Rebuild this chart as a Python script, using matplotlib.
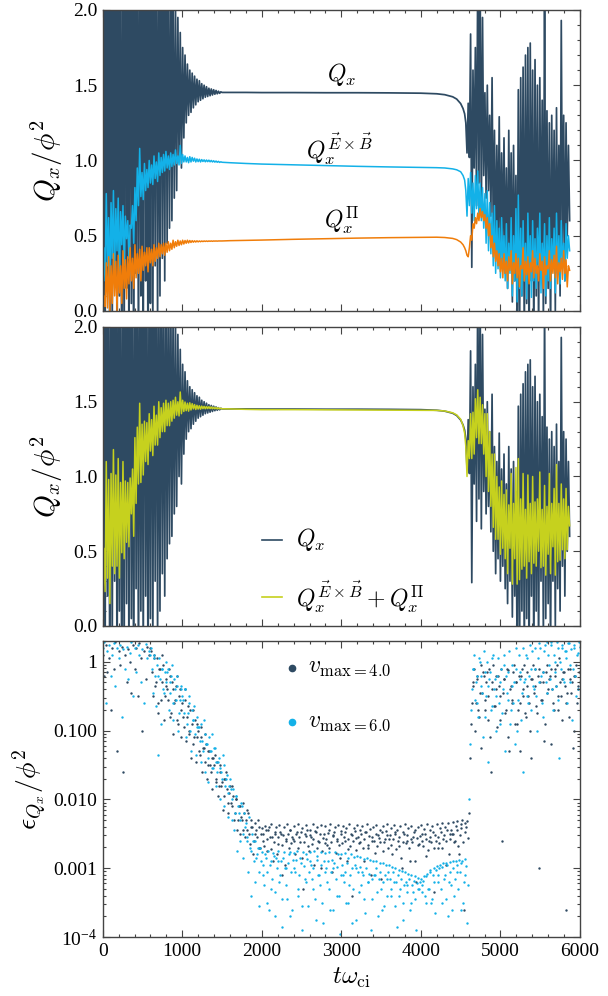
import numpy as np
import matplotlib
matplotlib.use("Agg")
import matplotlib.pyplot as plt
from matplotlib.ticker import MultipleLocator, FixedLocator, LogLocator, NullFormatter, FormatStrFormatter

plt.rcParams["font.family"] = "Liberation Serif"
plt.rcParams["mathtext.fontset"] = "cm"

DARK = "#2e4a62"
CYAN = "#13b1e8"
ORANGE = "#f07d0a"
LIME = "#c6d11e"
FRAME = "#444444"

# ------------------------------------------------------------
# heat flux time traces
# early turbulent part: t = 0 .. 1500, every 15
# ------------------------------------------------------------
STEP_LINE = 15
QX_EARLY = [
    0.0, 2.9, -0.5, 3.4, 0.2, 2.5, -0.8, 3.1, -0.2, 2.7,
    0.3, 3.6, -0.6, 2.4, 0.1, 3.0, -0.9, 2.6, -0.3, 3.3,
    0.15, 2.8, -0.4, 3.5, 0.05, 2.3, -0.7, 3.2, 0.25, 2.6,
    -0.5, 3.0, 0.1, 2.7, -0.35, 3.4, 0.2, 2.5, -0.6, 2.9,
    0.05, 3.1, -0.2, 2.6, 0.3, 2.8, -0.1, 2.4, 0.1, 2.7,
    0.35, 2.3, 0.2, 2.5, 0.45, 2.2, 0.55, 2.4, 0.6, 2.1,
    0.75, 2.05, 0.8, 1.95, 1.0, 1.85, 0.95, 1.75, 1.15, 1.7,
    1.25, 1.64, 1.3, 1.6, 1.32, 1.58, 1.35, 1.56, 1.37, 1.54,
    1.39, 1.53, 1.4, 1.51, 1.41, 1.5, 1.42, 1.49, 1.425, 1.48,
    1.43, 1.475, 1.435, 1.47, 1.44, 1.465, 1.443, 1.46, 1.446, 1.456,
    1.452,
]
EXB_EARLY = [
    0.05, 0.42, 0.2, 0.78, 0.3, 0.62, 0.15, 0.72, 0.35, 0.8,
    0.25, 0.68, 0.4, 0.75, 0.2, 0.66, 0.44, 0.7, 0.3, 0.63,
    0.48, 0.6, 0.35, 0.57, 0.55, 0.7, 0.45, 0.82, 0.6, 0.95,
    0.7, 1.08, 0.76, 0.92, 0.74, 0.98, 0.8, 0.94, 0.82, 1.0,
    0.85, 0.97, 0.84, 1.03, 0.88, 0.99, 0.86, 1.05, 0.9, 1.02,
    0.92, 1.04, 0.93, 1.06, 0.95, 1.03, 0.94, 1.05, 0.96, 1.04,
    0.97, 1.07, 0.98, 1.03, 0.97, 1.1, 0.98, 1.04, 0.99, 1.03,
    0.99, 1.02, 0.985, 1.025, 0.99, 1.02, 0.995, 1.015, 0.99, 1.01,
    0.992, 1.008, 0.99, 1.006, 0.993, 1.004, 0.991, 1.003, 0.992, 1.002,
    0.991, 1.0, 0.99, 0.998, 0.989, 0.996, 0.988, 0.994, 0.987, 0.991,
    0.988,
]
PI_EARLY = [
    0.0, 0.1, 0.03, 0.32, 0.02, 0.36, 0.0, 0.3, 0.05, 0.38,
    0.1, 0.33, 0.0, 0.37, 0.12, 0.3, 0.05, 0.4, 0.15, 0.34,
    0.08, 0.36, 0.18, 0.42, 0.2, 0.35, 0.15, 0.44, 0.22, 0.38,
    0.25, 0.41, 0.2, 0.43, 0.27, 0.39, 0.3, 0.42, 0.26, 0.42,
    0.32, 0.41, 0.3, 0.44, 0.33, 0.42, 0.35, 0.45, 0.36, 0.44,
    0.38, 0.45, 0.37, 0.45, 0.39, 0.46, 0.4, 0.45, 0.41, 0.47,
    0.42, 0.46, 0.43, 0.47, 0.435, 0.465, 0.44, 0.47, 0.445, 0.468,
    0.45, 0.47, 0.452, 0.468, 0.455, 0.467, 0.457, 0.466, 0.458, 0.466,
    0.459, 0.465, 0.46, 0.465, 0.461, 0.465, 0.462, 0.465, 0.462, 0.465,
    0.463, 0.465, 0.463, 0.465, 0.464, 0.465, 0.464, 0.465, 0.465, 0.465,
    0.465,
]

# quiet plateau
T_MID = [1600, 1800, 2000, 2400, 2800, 3200, 3600, 4000, 4200, 4300, 4400, 4450, 4500, 4530, 4550]
QX_MID = [1.452, 1.452, 1.451, 1.451, 1.45, 1.45, 1.449, 1.447, 1.443, 1.437, 1.423, 1.408, 1.378, 1.345, 1.31]
EXB_MID = [0.985, 0.98, 0.976, 0.971, 0.966, 0.961, 0.957, 0.954, 0.952, 0.95, 0.944, 0.938, 0.925, 0.9, 0.87]
PI_MID = [0.467, 0.469, 0.471, 0.476, 0.48, 0.484, 0.487, 0.489, 0.49, 0.488, 0.482, 0.474, 0.458, 0.44, 0.42]

# late turbulent part: t = 4565 .. 5870, every 15
LATE_START, LATE_END = 4565, 5870
QX_LATE = [
    1.25, 1.05, 1.38, 1.02, 1.84, 0.29, 1.6, 0.95, 1.75, 0.7,
    2.3, 0.85, 2.2, 0.65, 1.95, 0.9, 1.45, 0.75, 1.5, 0.8,
    1.3, 0.63, 1.55, 0.5, 1.2, 0.35, 1.1, 0.45, 1.29, 0.3,
    1.05, 0.4, 1.15, 0.25, 0.95, 0.15, 1.2, 0.3, 1.05, 0.06,
    1.1, 0.2, 0.9, -0.2, 1.47, -0.3, 1.55, 0.1, 1.62, -0.25,
    1.7, 0.05, 1.75, -0.4, 1.78, 0.2, 1.6, -0.3, 1.67, 0.1,
    1.5, -0.2, 1.55, 0.3, 1.4, -0.1, 2.2, 0.05, 1.33, 0.15,
    1.25, -0.2, 1.3, 0.3, 1.2, 0.0, 1.35, 0.25, 1.1, 0.1,
    1.93, 0.4, 1.3, 0.2, 1.25, 0.5, 1.1, 0.6,
]
EXB_LATE = [
    0.8, 0.63, 0.88, 0.7, 0.92, 0.65, 0.85, 0.6, 0.9, 0.68,
    0.93, 0.62, 0.85, 0.6, 0.82, 0.55, 0.78, 0.45, 0.8, 0.4,
    0.72, 0.38, 0.65, 0.3, 0.7, 0.25, 0.6, 0.28, 0.55, 0.22,
    0.62, 0.3, 0.5, 0.2, 0.58, 0.15, 0.45, 0.25, 0.62, 0.1,
    0.5, 0.2, 0.68, 0.06, 0.77, 0.15, 0.55, 0.1, 0.6, 0.2,
    0.45, 0.08, 0.65, 0.25, 0.5, 0.09, 0.6, 0.2, 0.48, 0.15,
    0.55, 0.3, 0.65, 0.12, 0.45, 0.25, 0.58, 0.1, 0.5, 0.2,
    0.62, 0.15, 0.48, 0.28, 0.55, 0.12, 0.65, 0.25, 0.5, 0.18,
    0.6, 0.3, 0.45, 0.2, 0.58, 0.35, 0.5, 0.4,
]
PI_LATE = [
    0.4, 0.37, 0.36, 0.42, 0.5, 0.47, 0.58, 0.55, 0.62, 0.58,
    0.65, 0.6, 0.68, 0.62, 0.66, 0.6, 0.64, 0.55, 0.62, 0.5,
    0.58, 0.42, 0.5, 0.36, 0.45, 0.33, 0.4, 0.3, 0.38, 0.26,
    0.35, 0.22, 0.38, 0.25, 0.33, 0.2, 0.36, 0.27, 0.4, 0.18,
    0.32, 0.25, 0.38, 0.22, 0.35, 0.16, 0.3, 0.28, 0.42, 0.2,
    0.33, 0.24, 0.36, 0.18, 0.32, 0.26, 0.4, 0.22, 0.35, 0.25,
    0.3, 0.2, 0.38, 0.27, 0.33, 0.15, 0.36, 0.24, 0.3, 0.28,
    0.4, 0.2, 0.34, 0.25, 0.37, 0.22, 0.43, 0.18, 0.32, 0.26,
    0.35, 0.21, 0.4, 0.25, 0.34, 0.16, 0.3, 0.27,
]

# ------------------------------------------------------------
# error estimate, log10 values
# set A: t = 0 .. 6000 every 20
# set B: t = 610 .. 4590 every 20
# set C: t = 4630 .. 5990 every 20
# ------------------------------------------------------------
STEP_ERR = 20
LOG_ERR_V4 = [
    0.1, -0.2, 0.25, -0.15, 0.05, -0.7, 0.2, -0.1, 0.28, -1.3,
    0.15, -0.05, 0.22, -1.6, 0.1, -0.3, 0.18, 0.0, -0.45, 0.25,
    -0.1, 0.2, -0.5, 0.27, 0.05, -1.0, 0.15, -0.25, 0.22, 0.1,
    0.2, -0.15, 0.1, -0.35, 0.05, -0.6, -0.1, -0.3, -0.05, -0.5,
    -0.25, -0.55, -0.2, -0.75, -0.4, -0.6, -0.35, -0.85, -0.5, -0.7,
    -0.6, -0.95, -0.55, -0.8, -1.05, -0.7, -0.9, -1.2, -0.85, -1.1,
    -1.0, -1.35, -1.1, -1.25, -1.45, -1.2, -1.5, -1.3, -1.6, -1.4,
    -1.5, -1.7, -1.45, -1.8, -1.6, -1.75, -1.95, -1.7, -1.85, -2.05,
    -1.8, -2.1, -1.95, -2.2, -2.0, -2.3, -2.1, -2.25, -2.45, -2.2,
    -2.3, -2.15, -2.5, -2.3, -2.4, -2.6, -2.35, -2.55, -2.4, -2.7,
    -2.42, -2.6, -2.38, -2.75, -2.45, -2.55, -2.36, -2.9, -2.5, -2.4,
    -2.65, -2.37, -2.5, -3.1, -2.4, -2.58, -2.36, -2.7, -2.45, -2.55,
    -2.38, -2.8, -2.47, -2.36, -2.62, -2.42, -3.3, -2.5, -2.37, -2.68,
    -2.44, -2.55, -2.36, -2.95, -2.48, -2.4, -2.62, -2.37, -2.75, -2.5,
    -2.39, -2.66, -2.45, -2.36, -3.05, -2.52, -2.4, -2.58, -2.37, -2.85,
    -2.46, -2.38, -2.6, -2.42, -2.72, -2.36, -2.5, -3.4, -2.41, -2.56,
    -2.37, -2.64, -2.45, -2.38, -2.9, -2.48, -2.36, -2.7, -2.43, -2.55,
    -2.4, -2.78, -2.37, -2.52, -2.44, -3.15, -2.38, -2.62, -2.46, -2.36,
    -2.58, -2.42, -2.8, -2.37, -2.5, -2.45, -2.68, -2.38, -3.0, -2.47,
    -2.36, -2.6, -2.42, -2.9, -2.38, -2.55, -2.44, -3.2, -2.4, -2.65,
    -2.37, -2.5, -2.43, -2.82, -2.36, -2.6, -2.45, -2.39, -3.35, -2.52,
    -2.36, -2.7, -2.42, -2.35, -2.58, -2.4, -2.95, -2.34, -2.5, -2.44,
    -2.33, -2.62, -2.38, -2.32, -2.8, -2.36, -2.3, -3.6, -2.35, -2.31,
    -2.2, -1.4, -0.6, -0.3, -1.0, -0.2, -0.7, -0.45, -1.25, -0.15,
    -0.55, -0.3, -0.85, -0.1, -1.6, -0.4, -0.65, -0.2, -0.95, -0.35,
    -0.5, -2.6, -0.25, -0.75, -0.1, -1.1, -0.4, -0.6, -0.15, -0.9,
    -0.3, -0.7, -1.3, -0.2, -0.5, -0.05, -0.8, -0.35, -0.6, -1.4,
    -0.25, -0.45, -0.1, -0.75, -3.0, -0.3, -0.55, -0.15, -0.9, -0.05,
    -0.4, -0.2, -1.2, -0.6, -0.1, -0.35, -0.7, 0.05, -0.5, -0.25,
    -0.15, -3.6, -0.45, -0.8, -0.1, -0.3, -1.0, -0.2, -0.6, -0.35,
    -0.3,
]
LOG_ERR_V6 = [
    0.2, 0.28, -0.6, 0.15, 0.25, -0.2, 0.1, 0.27, -0.35, 0.2,
    0.05, 0.25, -0.8, 0.18, -0.1, 0.22, -0.25, 0.12, 0.28, -0.5,
    0.2, -0.15, 0.25, 0.1, -0.3, 0.18, -0.6, 0.26, 0.05, 0.15,
    0.1, -0.1, 0.05, -0.2, -0.05, -1.35, -0.25, -0.1, -0.4, -0.15,
    -0.3, -0.1, -0.45, -0.2, -0.6, -0.25, -0.55, -0.35, -0.75, -0.4,
    -0.5, -0.75, -0.4, -0.9, -0.6, -1.0, -0.7, -0.85, -1.05, -0.8,
    -0.95, -1.15, -0.9, -1.3, -1.05, -1.2, -1.4, -1.1, -1.3, -1.55,
    -1.25, -1.45, -1.6, -1.4, -1.55, -1.7, -1.5, -1.8, -1.65, -1.9,
    -1.7, -2.0, -1.85, -2.2, -1.95, -2.1, -2.3, -2.05, -2.5, -2.2,
    -2.35, -2.6, -2.25, -2.75, -2.5, -2.9, -2.6, -2.8, -3.05, -2.7,
    -2.76, -3.1, -2.8, -3.5, -2.75, -2.95, -3.3, -2.78, -3.7, -2.85,
    -2.75, -3.2, -2.9, -3.85, -2.77, -3.0, -3.45, -2.8, -2.76, -3.6,
    -2.78, -3.05, -2.75, -3.4, -2.85, -3.9, -2.76, -3.15, -2.8, -3.55,
    -2.77, -2.95, -3.3, -2.75, -3.75, -2.82, -3.1, -2.76, -3.5, -2.9,
    -2.78, -3.2, -2.76, -3.6, -2.88, -3.0, -2.77, -3.4, -2.8, -3.95,
    -2.79, -3.1, -2.78, -3.5, -2.85, -3.25, -2.8, -3.8, -2.83, -3.0,
    -2.82, -3.35, -2.84, -3.05, -2.86, -3.65, -2.85, -3.2, -2.88, -3.45,
    -2.89, -3.1, -2.9, -3.7, -2.92, -3.3, -2.93, -3.55, -2.95, -3.15,
    -2.96, -3.4, -2.98, -3.2, -3.0, -3.85, -3.02, -3.3, -3.04, -3.5,
    -3.06, -3.25, -3.08, -3.6, -3.1, -3.35, -3.12, -3.9, -3.14, -3.3,
    -3.15, -3.35, -3.12, -3.5, -3.08, -3.3, -3.03, -3.45, -3.0, -3.65,
    -2.97, -3.2, -2.95, -3.5, -2.93, -3.1, -2.92, -3.7, -2.91, -3.25,
    -2.9, -3.4, -2.9, -3.05, -2.88, -3.6, -2.9, -3.2, -2.87, -3.8,
    -2.0, -1.2, -0.4, -0.1, -0.55, -0.2, -0.8, 0.0, -0.35, -1.1,
    -0.15, -0.5, -1.45, -0.25, -0.7, 0.05, -0.4, -1.0, -0.2, -0.6,
    -0.3, -0.75, -0.05, -1.3, -0.45, -0.15, -0.9, -0.35, -0.6, -1.2,
    -0.1, -0.55, -0.25, -0.85, -1.6, -0.3, 0.1, -0.5, -0.2, -0.7,
    0.15, -0.4, -0.1, -1.0, -0.3, 0.2, -0.6, -0.15, 0.25, -0.45,
    0.1, -0.25, 0.28, -0.7, 0.0, -0.35, 0.2, -1.4, -0.1, 0.25,
    -0.3, 0.15, -0.6, 0.27, -0.05, -0.85, 0.2, -0.2, 0.1, -0.4,
    0.22,
]
ERR_B_START, ERR_B_END = 610, 4590
LOG_ERR_V4_B = [
    0.15, -0.5, 0.05, -0.3, -0.75, -0.1, -0.55, 0.1, -0.85, -0.35,
    -0.4, -0.1, -0.8, -0.3, -1.05, -0.55, -0.2, -0.9, -0.4, -1.1,
    -0.8, -0.4, -1.15, -0.65, -1.0, -1.4, -0.7, -1.1, -1.45, -0.9,
    -1.3, -0.95, -1.6, -1.25, -1.05, -1.7, -1.3, -1.5, -1.85, -1.4,
    -1.35, -1.75, -1.95, -1.5, -1.8, -2.15, -1.7, -1.6, -2.2, -1.9,
    -2.05, -1.8, -2.3, -2.0, -2.45, -2.1, -2.5, -2.3, -2.05, -2.55,
    -2.45, -2.2, -2.65, -2.4, -2.8, -2.5, -2.45, -2.3, -2.7, -2.5,
    -2.5, -2.68, -2.45, -2.58, -2.4, -2.72, -2.55, -2.62, -2.48, -2.8,
    -2.55, -2.47, -2.66, -2.52, -2.95, -2.6, -2.5, -2.44, -2.64, -2.58,
    -2.6, -2.5, -2.7, -2.55, -2.48, -2.85, -2.62, -2.53, -2.45, -2.75,
    -2.52, -2.65, -2.58, -2.46, -2.7, -2.6, -2.5, -3.0, -2.56, -2.63,
    -2.57, -2.49, -2.7, -2.62, -2.53, -2.47, -2.78, -2.6, -2.66, -2.5,
    -2.64, -2.55, -2.48, -2.9, -2.58, -2.68, -2.52, -2.6, -2.46, -2.74,
    -2.55, -2.62, -2.5, -2.7, -2.58, -2.47, -2.66, -2.53, -3.1, -2.6,
    -2.6, -2.5, -2.68, -2.56, -2.62, -2.48, -2.75, -2.58, -2.52, -2.7,
    -2.52, -2.66, -2.58, -2.47, -2.72, -2.6, -2.54, -2.85, -2.62, -2.5,
    -2.64, -2.52, -2.7, -2.57, -2.62, -2.48, -2.9, -2.56, -2.66, -2.53,
    -2.6, -2.68, -2.5, -2.58, -2.74, -2.55, -2.62, -2.47, -2.7, -2.6,
    -2.55, -2.64, -2.48, -2.7, -2.52, -2.6, -2.45, -2.8, -2.58, -2.5,
    -2.5, -2.6, -2.44, -2.68, -2.52, -2.42, -2.62, -2.48, -2.4, -2.56,
]
LOG_ERR_V6_B = [
    0.2, -0.45, 0.1, -0.65, -0.2, 0.05, -0.9, -0.1, -0.45, 0.0,
    -0.15, -0.7, -0.3, -0.05, -0.85, -0.4, -0.2, -1.0, -0.55, -0.35,
    -0.55, -0.4, -1.1, -0.75, -0.5, -1.3, -0.85, -0.65, -1.35, -0.95,
    -0.95, -1.45, -1.15, -0.85, -1.6, -1.2, -1.75, -1.3, -1.05, -1.55,
    -1.25, -1.8, -1.45, -2.0, -1.6, -1.35, -2.1, -1.7, -2.25, -1.8,
    -1.85, -2.3, -2.45, -1.95, -2.75, -2.2, -2.6, -2.1, -2.85, -2.4,
    -2.55, -3.05, -2.7, -3.4, -2.6, -3.2, -2.85, -2.7, -3.55, -2.9,
    -2.95, -3.25, -2.85, -3.05, -3.6, -2.9, -3.15, -2.82, -3.35, -3.0,
    -2.9, -3.1, -3.45, -2.85, -3.0, -3.25, -2.92, -3.7, -3.05, -2.88,
    -3.0, -2.88, -3.3, -3.1, -2.92, -3.55, -2.97, -3.2, -2.86, -3.05,
    -2.9, -3.15, -3.0, -3.45, -2.88, -3.1, -3.25, -2.95, -3.8, -3.05,
    -3.0, -2.9, -3.3, -3.05, -3.6, -2.93, -3.15, -2.98, -3.4, -3.1,
    -2.95, -3.2, -3.05, -2.92, -3.5, -3.1, -3.0, -3.3, -2.96, -3.75,
    -3.05, -2.98, -3.25, -3.1, -3.45, -3.0, -3.2, -3.08, -3.9, -3.15,
    -3.1, -3.0, -3.35, -3.15, -3.05, -3.6, -3.2, -3.1, -3.4, -3.05,
    -3.15, -3.3, -3.05, -3.55, -3.2, -3.1, -3.4, -3.15, -3.75, -3.25,
    -3.2, -3.35, -3.15, -3.5, -3.25, -3.18, -3.45, -3.22, -3.3, -3.2,
    -3.25, -3.18, -3.4, -3.12, -3.3, -3.05, -3.5, -3.1, -3.2, -3.02,
    -3.1, -3.0, -3.3, -2.98, -3.15, -3.45, -2.96, -3.2, -3.05, -3.6,
    -3.0, -3.15, -2.95, -3.3, -3.05, -2.93, -3.5, -3.1, -2.97, -3.25,
]
ERR_C_START, ERR_C_END = 4630, 5990
LOG_ERR_V4_C = [
    -0.9, -0.35, -0.1, -0.6, -0.25, -0.8, -0.05, -0.45, -0.2, -0.7,
    -0.15, -0.5, -1.1, -0.3, -0.05, -0.65, -0.4, -0.2, -0.85, -0.1,
    -0.45, -0.25, -0.7, -0.12, -1.3, -0.35, -0.55, -0.05, -0.3, -0.9,
    -0.2, -0.6, -0.1, -0.4, -0.75, -0.15, -0.5, -1.0, -0.25, -0.05,
    -0.35, -0.65, -0.2, -0.1, -0.55, -0.3, -1.15, -0.15, -0.45, -0.25,
    -0.1, -0.4, -0.7, -0.2, -0.05, -0.5, -0.3, -0.85, -0.15, -0.35,
    -0.6, -0.1, -0.25, -0.45, -1.25, -0.2, -0.05, -0.4, -0.15,
]
LOG_ERR_V6_C = [
    -0.7, -0.1, 0.1, -0.3, -0.6, 0.05, -0.2, -0.45, 0.15, -0.8,
    0.0, -0.35, -0.15, -0.65, 0.1, -0.25, -0.5, 0.05, -0.9, -0.1,
    -0.4, 0.1, -0.2, -0.55, 0.15, -0.7, -0.05, -0.3, 0.2, -1.0,
    0.1, -0.15, -0.45, 0.2, -0.25, 0.05, -0.6, 0.25, -0.1, -0.35,
    0.2, -0.5, 0.05, 0.27, -0.2, -0.8, 0.15, -0.3, 0.28, -0.05,
    0.25, -0.4, 0.1, -0.15, 0.28, -0.55, 0.0, 0.2, -0.25, 0.15,
    0.05, 0.27, -0.3, 0.18, -0.1, 0.25, -0.5, 0.12, 0.28,
]

ERR_TICKS = [1e-4, 1e-3, 1e-2, 1e-1, 1.0]
ERR_TICK_LABELS = [r"$\mathregular{10^{-4}}$", "0.001", "0.010", "0.100", "1"]


def style_frame(ax):
    for s in ax.spines.values():
        s.set_color(FRAME)
        s.set_linewidth(1.0)
    ax.tick_params(which="both", direction="in", top=True, right=True,
                   color=FRAME, width=0.8, labelsize=14, pad=4)
    ax.tick_params(which="major", length=5)
    ax.tick_params(which="minor", length=2.5)
    ax.set_xlim(0, 6000)
    ax.xaxis.set_major_locator(MultipleLocator(1000))
    ax.xaxis.set_minor_locator(MultipleLocator(200))


def style_flux(ax):
    style_frame(ax)
    ax.set_ylim(0, 2)
    ax.yaxis.set_major_locator(MultipleLocator(0.5))
    ax.yaxis.set_minor_locator(MultipleLocator(0.1))
    ax.yaxis.set_major_formatter(FormatStrFormatter("%.1f"))
    ax.tick_params(axis="x", labelbottom=False)
    ax.set_ylabel(r"$Q_x/\phi^2$", fontsize=21)
    ax.yaxis.set_label_coords(-0.078, 0.5)


def main():
    t_early = np.arange(0, 1500 + 1, STEP_LINE)
    t_late = np.arange(LATE_START, LATE_END + 1, STEP_LINE)
    t = np.concatenate([t_early, T_MID, t_late])
    qx = np.concatenate([QX_EARLY, QX_MID, QX_LATE])
    exb = np.concatenate([EXB_EARLY, EXB_MID, EXB_LATE])
    pi = np.concatenate([PI_EARLY, PI_MID, PI_LATE])
    qsum = exb + pi

    t_err = np.concatenate([np.arange(0, 6000 + 1, STEP_ERR),
                            np.arange(ERR_B_START, ERR_B_END + 1, STEP_ERR),
                            np.arange(ERR_C_START, ERR_C_END + 1, STEP_ERR)])
    err4 = 10.0 ** np.array(LOG_ERR_V4 + LOG_ERR_V4_B + LOG_ERR_V4_C)
    err6 = 10.0 ** np.array(LOG_ERR_V6 + LOG_ERR_V6_B + LOG_ERR_V6_C)

    fig = plt.figure(figsize=(6.08, 9.96), dpi=100)
    ax1 = fig.add_axes([0.1689, 0.6878, 0.785, 0.3022])
    ax2 = fig.add_axes([0.1689, 0.3715, 0.785, 0.3002])
    ax3 = fig.add_axes([0.1689, 0.0592, 0.785, 0.2972])

    # ---------------- panel 1: flux components ----------------
    ax1.plot(t, qx, color=DARK, lw=1.25)
    ax1.plot(t, exb, color=CYAN, lw=1.1)
    ax1.plot(t, pi, color=ORANGE, lw=1.1)
    style_flux(ax1)
    ax1.text(3000, 1.57, r"$Q_x$", ha="center", va="center", fontsize=17)
    ax1.text(2980, 1.08, r"$Q_x^{\vec{E}\times\vec{B}}$", ha="center", va="center", fontsize=17)
    ax1.text(3000, 0.60, r"$Q_x^{\Pi}$", ha="center", va="center", fontsize=17)

    # ---------------- panel 2: total vs sum ----------------
    ax2.plot(t, qx, color=DARK, lw=1.25)
    ax2.plot(t, qsum, color=LIME, lw=1.1)
    style_flux(ax2)
    for y, col, lab in [(0.288, DARK, r"$Q_x$"),
                        (0.097, LIME, r"$Q_x^{\vec{E}\times\vec{B}}+Q_x^{\Pi}$")]:
        ax2.plot([0.334, 0.376], [y, y], color=col, lw=1.2, transform=ax2.transAxes)
        ax2.text(0.405, y, lab, transform=ax2.transAxes, ha="left", va="center", fontsize=17)

    # ---------------- panel 3: error estimate ----------------
    ax3.scatter(t_err, err4, s=3, color=DARK, lw=0)
    ax3.scatter(t_err, err6, s=3, color=CYAN, lw=0)
    style_frame(ax3)
    ax3.set_yscale("log")
    ax3.set_ylim(1e-4, 2)
    ax3.yaxis.set_major_locator(FixedLocator(ERR_TICKS))
    ax3.set_yticklabels(ERR_TICK_LABELS)
    ax3.yaxis.set_minor_locator(LogLocator(base=10, subs=np.arange(2, 10)))
    ax3.yaxis.set_minor_formatter(NullFormatter())
    ax3.set_ylabel(r"$\epsilon_{Q_x}/\phi^2$", fontsize=20)
    ax3.yaxis.set_label_coords(-0.115, 0.5)
    ax3.text(0.52, -0.139, r"$t\omega_{\mathrm{ci}}$", transform=ax3.transAxes,
             ha="center", va="center", fontsize=18)

    for y, col, lab in [(0.909, DARK, r"$v_{\mathrm{max=4.0}}$"),
                        (0.726, CYAN, r"$v_{\mathrm{max=6.0}}$")]:
        ax3.plot([0.397], [y], "o", ms=4.5, color=col, transform=ax3.transAxes)
        ax3.text(0.43, y, lab, transform=ax3.transAxes, ha="left", va="center", fontsize=17)

    fig.savefig("out.png", dpi=100)


if __name__ == "__main__":
    main()
